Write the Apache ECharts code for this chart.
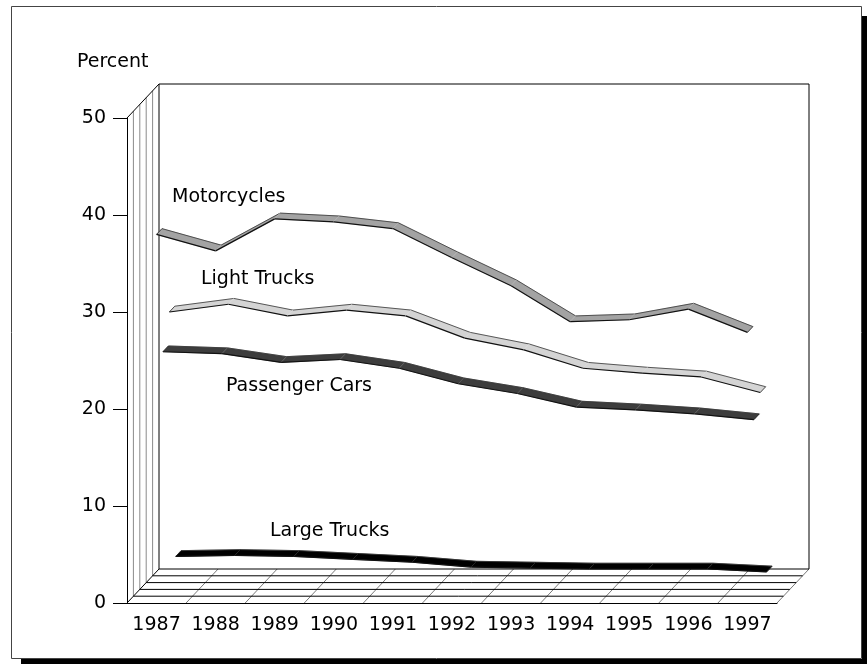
<!DOCTYPE html>
<html lang="en">
<head>
  <meta charset="utf-8">
  <title>Percent</title>
  <script src="https://cdn.jsdelivr.net/npm/echarts@6/dist/echarts.min.js"></script>
</head>
<body style="margin: 0; background: #fff">
<div id="container" style="width: 867px; height: 664px"></div>
<script type="text/javascript">
  var years = ['1987', '1988', '1989', '1990', '1991', '1992', '1993', '1994', '1995', '1996', '1997'];
  var motorcycles = [38.0, 36.3, 39.6, 39.3, 38.6, 35.6, 32.7, 29.0, 29.2, 30.3, 27.9];
  var lightTrucks = [28.6, 29.4, 28.2, 28.8, 28.2, 25.9, 24.7, 22.8, 22.3, 21.9, 20.3];
  var passengerCars = [25.2, 25.0, 24.1, 24.4, 23.5, 21.9, 20.9, 19.5, 19.2, 18.8, 18.2];
  var largeTrucks = [2.7, 2.8, 2.7, 2.4, 2.1, 1.6, 1.5, 1.4, 1.4, 1.4, 1.1];
  var yMin = 0, yMax = 50, yStep = 10;

  // pseudo 3d: full depth of the box in pixels, and rows for each ribbon
  var DEPTH = [32, -34];
  var ROW_STEP = 0.2, RIBBON_W = 0.17;
  var FONT = 'DejaVu Sans';

  var dom = document.getElementById('container');
  var myChart = echarts.init(dom);

  function shift(p, f) {
    return [p[0] + DEPTH[0] * f, p[1] + DEPTH[1] * f];
  }
  function seg(a, b, stroke, w) {
    return { type: 'line', shape: { x1: a[0], y1: a[1], x2: b[0], y2: b[1] }, style: { stroke: stroke, lineWidth: w } };
  }

  function frameItem(params, api) {
    var o = api.coord([0, yMin]);
    var band = api.size([1, 0])[0];
    var left = o[0] - band / 2;
    var right = left + band * years.length;
    var y0 = o[1];
    var yTop = api.coord([0, yMax])[1];
    var ch = [];
    // left wall
    for (var f = 0.2; f < 0.99; f += 0.2) {
      ch.push(seg(shift([left, y0], f), shift([left, yTop], f), '#8a8a8a', 1));
    }
    ch.push(seg([left, yTop], shift([left, yTop], 1), '#000', 1));
    ch.push(seg([left, y0], shift([left, y0], 1), '#000', 1));
    // floor
    for (var k = 1; k <= years.length; k++) {
      var x = left + band * k;
      ch.push(seg([x, y0], shift([x, y0], 1), '#555', 0.8));
    }
    for (var g = 0.2; g < 1.01; g += 0.2) {
      ch.push(seg(shift([left, y0], g), shift([right, y0], g), '#000', 1));
    }
    // back wall
    ch.push({
      type: 'polyline',
      shape: { points: [shift([left, y0], 1), shift([left, yTop], 1), shift([right, yTop], 1), shift([right, y0], 1)] },
      style: { stroke: '#000', lineWidth: 1, fill: null }
    });
    return { type: 'group', children: ch };
  }

  function ribbonItem(row, color, n) {
    return function (params, api) {
      var i = api.value(0);
      var a = api.coord([i, api.value(1)]);
      var b = api.coord([i + 1, api.value(2)]);
      var f0 = row * ROW_STEP, f1 = f0 + RIBBON_W;
      var p1 = shift(a, f0), p2 = shift(b, f0), p3 = shift(b, f1), p4 = shift(a, f1);
      var ch = [
        { type: 'polygon', shape: { points: [p1, p2, p3, p4] }, style: { fill: color, stroke: color, lineWidth: 0.5 } },
        seg(p1, p2, '#111', 1.2),
        seg(p4, p3, '#333', 0.8)
      ];
      if (i === 0) ch.push(seg(p1, p4, '#222', 0.8));
      if (i === n - 2) ch.push(seg(p2, p3, '#222', 0.8));
      else ch.push(seg(p2, p3, 'rgba(255,255,255,0.55)', 0.6));
      return { type: 'group', children: ch };
    };
  }

  var lines = [
    { name: 'Large Trucks', values: largeTrucks, color: '#000000', row: 3 },
    { name: 'Light Trucks', values: lightTrucks, color: '#d4d4d4', row: 2 },
    { name: 'Passenger Cars', values: passengerCars, color: '#3d3d3d', row: 1 },
    { name: 'Motorcycles', values: motorcycles, color: '#a3a3a3', row: 0 }
  ];

  var series = [{
    type: 'custom',
    name: 'frame',
    renderItem: frameItem,
    data: [[0, 0]],
    encode: { x: 0, y: 1 },
    silent: true,
    z: 1
  }];
  lines.forEach(function (s) {
    var data = s.values.slice(0, -1).map(function (v, i) {
      return [i, v, s.values[i + 1]];
    });
    series.push({
      type: 'custom',
      name: s.name,
      renderItem: ribbonItem(s.row, s.color, s.values.length),
      data: data,
      encode: { x: 0, y: 1 },
      z: 2
    });
  });

  function label(text, x, y) {
    return {
      type: 'text', x: x, y: y, z: 10,
      style: { text: text, fontSize: 19, fontFamily: FONT, fill: '#000', verticalAlign: 'middle', align: 'left' }
    };
  }

  var option = {
    animation: false,
    backgroundColor: '#fff',
    grid: { left: 127, top: 118, width: 650, height: 485 },
    xAxis: {
      type: 'category',
      data: years,
      boundaryGap: true,
      axisLine: { lineStyle: { color: '#000', width: 1 } },
      axisTick: { show: false },
      axisLabel: { color: '#000', fontSize: 19, fontFamily: FONT, margin: 13, interval: 0 },
      splitLine: { show: false }
    },
    yAxis: {
      type: 'value',
      min: yMin,
      max: yMax,
      interval: yStep,
      axisLine: { show: true, lineStyle: { color: '#000', width: 1 } },
      axisTick: { show: true, length: 14, lineStyle: { color: '#000' } },
      axisLabel: { color: '#000', fontSize: 19, fontFamily: FONT, margin: 21 },
      splitLine: { show: false }
    },
    graphic: [
      { type: 'rect', shape: { x: 21, y: 659, width: 846, height: 5 }, style: { fill: '#000' } },
      { type: 'rect', shape: { x: 862, y: 16, width: 5, height: 648 }, style: { fill: '#000' } },
      { type: 'rect', shape: { x: 11.5, y: 6.5, width: 850, height: 652 }, style: { fill: null, stroke: '#444', lineWidth: 1 } },
      label('Percent', 77, 62),
      label('Motorcycles', 172, 197),
      label('Light Trucks', 201, 279),
      label('Passenger Cars', 226, 386),
      label('Large Trucks', 270, 531)
    ],
    series: series
  };

  myChart.setOption(option);
</script>
</body>
</html>
